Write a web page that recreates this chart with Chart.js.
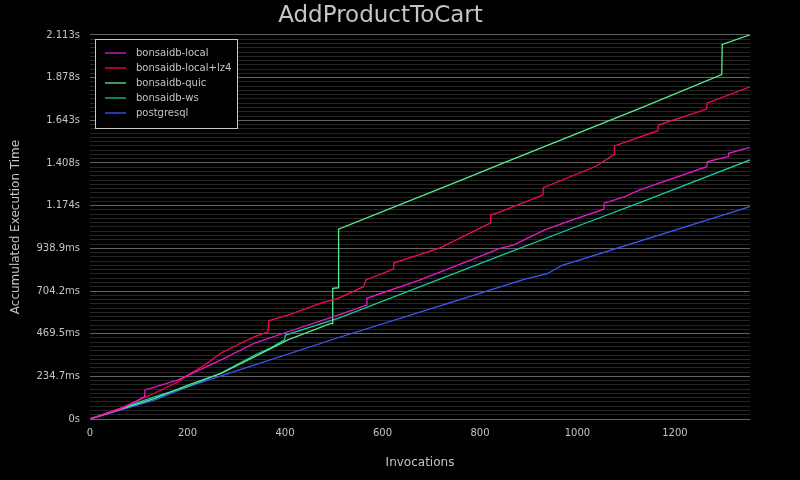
<!DOCTYPE html>
<html><head><meta charset="utf-8">
<script src="https://cdn.jsdelivr.net/npm/chart.js@4/dist/chart.umd.min.js"></script>
<style>html,body{margin:0;padding:0;background:#000;overflow:hidden;}canvas{display:block;}</style>
</head><body>
<canvas id="c" width="800" height="480"></canvas>
<script>
const chartTitle = 'AddProductToCart';
const xAxisTitle = 'Invocations';
const yAxisTitle = 'Accumulated Execution Time';
const seriesNames = ['bonsaidb-local', 'bonsaidb-local+lz4', 'bonsaidb-quic', 'bonsaidb-ws', 'postgresql'];
const seriesColors = ['#e61ac8', '#f50a4b', '#5aeb8c', '#14c8a0', '#3c5aff'];
const xTickValues = [0, 200, 400, 600, 800, 1000, 1200];
const yTickLabels = ['0s', '234.7ms', '469.5ms', '704.2ms', '938.9ms', '1.174s', '1.408s', '1.643s', '1.878s', '2.113s'];
const yTickStep = 234.73;
const xMax = 1354;

// bonsaidb-local
const localX = [0, 64, 112, 113, 181, 269, 338, 406, 509, 567, 568, 677, 765, 841, 868, 933, 978, 1054, 1055, 1097, 1128, 1265, 1267, 1309, 1310, 1354];
const localY = [0, 55, 123, 160, 215, 325, 418, 480, 572, 627, 664, 765, 858, 939, 957, 1040, 1085, 1154, 1187, 1223, 1260, 1388, 1416, 1443, 1462, 1495];
// bonsaidb-local+lz4
const lz4X = [0, 64, 133, 181, 201, 235, 269, 310, 338, 365, 367, 406, 474, 509, 561, 566, 622, 623, 718, 821, 822, 841, 929, 930, 1039, 1075, 1076, 1165, 1166, 1265, 1266, 1354];
const lz4Y = [0, 61, 143, 205, 242, 297, 363, 418, 453, 480, 541, 572, 637, 664, 728, 765, 825, 858, 941, 1078, 1122, 1140, 1232, 1273, 1392, 1456, 1502, 1586, 1617, 1705, 1737, 1827];
// bonsaidb-quic
const quicX = [0, 133, 201, 269, 338, 406, 494, 497, 498, 509, 510, 763, 841, 1128, 1296, 1297, 1354];
const quicY = [0, 114, 187, 251, 343, 435, 526, 525, 719, 722, 1044, 1315, 1401, 1709, 1895, 2061, 2113];
// bonsaidb-ws
const wsX = [0, 133, 201, 269, 338, 371, 399, 401, 509, 841, 1005, 1128, 1354];
const wsY = [0, 123, 178, 253, 352, 391, 435, 462, 554, 897, 1066, 1190, 1425];
// postgresql
const pgX = [0, 133, 201, 509, 749, 892, 937, 970, 1005, 1128, 1354];
const pgY = [0, 105, 178, 447, 649, 770, 798, 847, 875, 978, 1168];

const seriesX = [localX, lz4X, quicX, wsX, pgX];
const seriesY = [localY, lz4Y, quicY, wsY, pgY];

const FONT = "'DejaVu Sans', sans-serif";
const TEXT = '#c4c4c4';
const yMax = 9 * yTickStep;

const datasets = seriesNames.map((name, i) => ({
  label: name,
  data: seriesX[i].map((x, j) => ({ x: x, y: seriesY[i][j] })),
  borderColor: seriesColors[i],
  backgroundColor: seriesColors[i],
  borderWidth: 1.3,
  pointRadius: 0,
  tension: 0,
  fill: false
}));

const overlayPlugin = {
  id: 'overlay',
  afterDraw(chart) {
    const ctx = chart.ctx;
    ctx.save();
    ctx.fillStyle = TEXT;
    ctx.font = '23px ' + FONT;
    ctx.textAlign = 'center';
    ctx.textBaseline = 'middle';
    ctx.fillText(chartTitle, 380.5, 16.5);
    const bx = 95.5, by = 39.5, bw = 142, bh = 89;
    ctx.fillStyle = '#000';
    ctx.fillRect(bx, by, bw, bh);
    ctx.strokeStyle = '#c8c8c8';
    ctx.lineWidth = 1;
    ctx.strokeRect(bx, by, bw, bh);
    ctx.font = '10px ' + FONT;
    ctx.textAlign = 'left';
    chart.data.datasets.forEach((ds, i) => {
      const y = 53 + i * 15;
      ctx.strokeStyle = ds.borderColor;
      ctx.lineWidth = 1.3;
      ctx.beginPath();
      ctx.moveTo(105, y);
      ctx.lineTo(126, y);
      ctx.stroke();
      ctx.fillStyle = TEXT;
      ctx.fillText(ds.label, 136, y + 0.5);
    });
    ctx.restore();
  }
};

new Chart(document.getElementById('c'), {
  type: 'line',
  data: { datasets: datasets },
  plugins: [overlayPlugin],
  options: {
    responsive: false,
    animation: false,
    devicePixelRatio: 1,
    layout: { padding: { top: 35, right: 50, bottom: 0, left: 0 } },
    plugins: { legend: { display: false }, title: { display: false }, tooltip: { enabled: false } },
    scales: {
      x: {
        type: 'linear',
        min: 0,
        max: xMax,
        afterBuildTicks: s => { s.ticks = xTickValues.map(v => ({ value: v })); },
        afterFit: s => { s.height = 61; },
        grid: { display: false, drawTicks: false },
        border: { display: false },
        ticks: { color: TEXT, font: { family: FONT, size: 10 }, padding: 8, autoSkip: false, maxRotation: 0, callback: v => String(v) },
        title: { display: true, text: xAxisTitle, color: TEXT, font: { family: FONT, size: 12 }, padding: { top: 0, bottom: 10 } }
      },
      y: {
        type: 'linear',
        min: 0,
        max: yMax,
        afterBuildTicks: s => {
          const t = [];
          for (let i = 0; i <= 90; i++) t.push({ value: i * yTickStep / 10 });
          s.ticks = t;
        },
        afterFit: s => { s.width = 90; },
        grid: {
          drawTicks: false,
          color: c => (c.index % 10 === 0 ? '#646464' : '#262626'),
          lineWidth: 1
        },
        border: { display: false },
        ticks: {
          color: TEXT,
          font: { family: FONT, size: 10 },
          padding: 10,
          autoSkip: false,
          callback: (v, i) => (i % 10 === 0 ? yTickLabels[i / 10] : '')
        },
        title: { display: true, text: yAxisTitle, color: TEXT, font: { family: FONT, size: 12 }, padding: { top: 9, bottom: 0 } }
      }
    }
  }
});
</script>
</body></html>
